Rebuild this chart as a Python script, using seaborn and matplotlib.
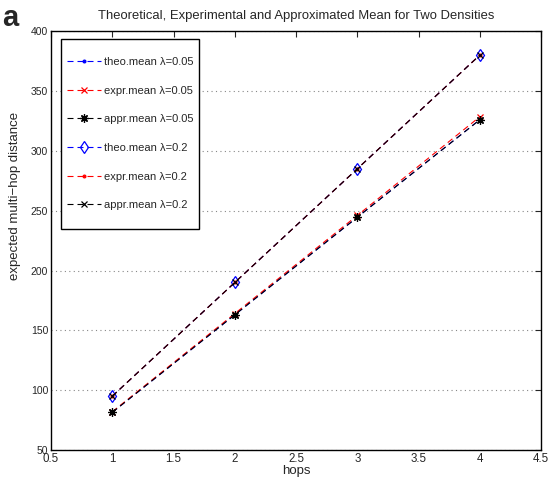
import matplotlib
matplotlib.use("Agg")
import matplotlib.pyplot as plt
import matplotlib.patches as mpatches
from matplotlib.transforms import IdentityTransform
import seaborn as sns
import pandas as pd

hops = [1, 2, 3, 4]
theo_005 = [81.5, 163.0, 244.5, 326.0]
expr_005 = [82.0, 164.0, 246.0, 328.5]
appr_005 = [81.5, 163.0, 244.5, 326.0]
theo_02 = [95.0, 190.0, 285.0, 380.0]
expr_02 = [95.0, 190.0, 285.0, 380.0]
appr_02 = [95.0, 190.0, 285.0, 380.0]

labels = ["theo.mean λ=0.05", "expr.mean λ=0.05", "appr.mean λ=0.05",
          "theo.mean λ=0.2", "expr.mean λ=0.2", "appr.mean λ=0.2"]
series = [theo_005, expr_005, appr_005, theo_02, expr_02, appr_02]
colors = ["#0000ff", "#ff0000", "#000000", "#0000ff", "#ff0000", "#000000"]
markers = [".", "x", (8, 2, 0), "d", ".", "x"]
msizes = [4, 5, 6, 6, 4, 4.5]

sns.set_style("white")
plt.rcParams['font.family'] = ['Liberation Sans', 'DejaVu Sans']

fig = plt.figure(figsize=(5.49, 4.80), dpi=100)
ax = fig.add_axes([0.093, 0.0625, 0.8925, 0.8725])

for lab, vals, c, m, ms in zip(labels, series, colors, markers, msizes):
    df = pd.DataFrame({"hops": hops, "val": vals})
    mfc = "none" if m == "d" else c
    sns.lineplot(data=df, x="hops", y="val", ax=ax, color=c,
                 linestyle=(0, (5.4, 3.6)), linewidth=0.8, marker=m,
                 markersize=ms, markerfacecolor=mfc, markeredgecolor=c,
                 markeredgewidth=0.9, label=lab)

ax.set_xlim(0.5, 4.5)
ax.set_ylim(50, 400)
ax.set_xticks([0.5, 1, 1.5, 2, 2.5, 3, 3.5, 4, 4.5])
ax.set_xticklabels(["0.5", "1", "1.5", "2", "2.5", "3", "3.5", "4", "4.5"])
ax.set_yticks([50, 100, 150, 200, 250, 300, 350, 400])
ax.tick_params(direction="in", top=True, right=True, length=4.5, width=0.8, pad=2)
ax.tick_params(axis="x", labelsize=8.3)
ax.tick_params(axis="y", labelsize=7.5)
ax.yaxis.grid(True, linestyle=(0, (1, 3)), color="#888888", linewidth=0.8)
ax.xaxis.grid(False)
for s in ax.spines.values():
    s.set_linewidth(1.0)
    s.set_color("black")

ax.set_xlabel("hops", fontsize=9.5, labelpad=0)
ax.set_ylabel("expected multi−hop distance", fontsize=9.5)
ax.yaxis.set_label_coords(-0.062, 0.606)
ax.set_title("Theoretical, Experimental and Approximated Mean for Two Densities",
             fontsize=9.4, pad=9)
fig.text(0.004, 0.962, "a", fontsize=21, fontweight="bold", va="center", ha="left")

leg = ax.legend(loc="upper left", bbox_to_anchor=(0.021, 0.952), fontsize=8,
                frameon=False, handlelength=3.1, labelspacing=1.68,
                borderpad=0.5, handletextpad=0.2, borderaxespad=0,
                numpoints=1)
leg.set_zorder(10)
fig.canvas.draw()
bb = leg.get_window_extent()
rect = mpatches.Rectangle((bb.x0, bb.y0 - 13), bb.width, bb.height + 25,
                          transform=IdentityTransform(), facecolor="white",
                          edgecolor="black", linewidth=1.0, zorder=9,
                          clip_on=False)
ax.add_artist(rect)

fig.savefig("out.png", dpi=100)
